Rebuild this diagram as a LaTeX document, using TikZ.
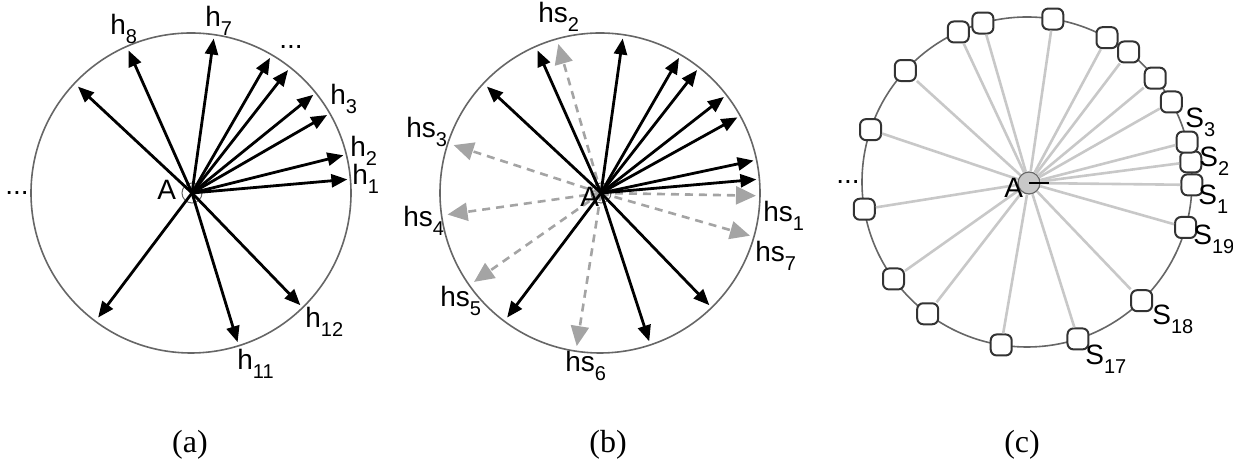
\documentclass[tikz,border=0pt]{standalone}
\usepackage{fontspec}
\setmainfont{Liberation Serif}
\setsansfont{Liberation Sans}
\usetikzlibrary{arrows.meta}
\definecolor{ringgray}{HTML}{666666}
\definecolor{dashgray}{HTML}{A4A4A4}
\definecolor{linkgray}{HTML}{C8C8C8}
\newcommand{\lsub}[1]{\raisebox{-4.5pt}{\fontsize{10}{10}\selectfont #1}}

\begin{document}
\begin{tikzpicture}[x=0.5pt,y=0.5pt,font=\sffamily\fontsize{14}{16}\selectfont,
    ring/.style={ringgray,line width=0.8pt},
    harrow/.style={line width=1.4pt,-{Triangle[length=8pt,width=6.5pt]}},
    hsarrow/.style={dashgray,line width=1.3pt,dash pattern=on 4pt off 3pt,-{Triangle[length=10pt,width=9pt]}},
    origin/.style={circle,draw=ringgray,line width=0.5pt,minimum size=10pt,inner sep=0pt},
    sbox/.style={draw=black!80,fill=white,line width=1pt,rounded corners=3pt,minimum size=10.5pt,inner sep=0pt},
    lab/.style={anchor=base west,inner sep=0pt},
    captext/.style={font=\rmfamily\fontsize{16}{18}\selectfont,anchor=base}]
    \useasboundingbox (0,0) rectangle (1233,465);
    % (a)
    \draw[ring] (191,272) circle (160);
    \node[origin] (A) at (192,272) {};
    \foreach \a [count=\i] in {5,14,30,39,52,60,82,114,137,233,287,314}{\path (A.center) ++(\a:156) coordinate (h\i); \draw[harrow] (A.center)--(h\i);}
    \node[lab] (la) at (157,265) {A};
    \node[lab] (lh1) at (352,280) {h\lsub{1}};
    \node[lab] (lh2) at (350,308) {h\lsub{2}};
    \node[lab] (lh3) at (330,360) {h\lsub{3}};
    \node[lab] (lh7) at (205,438) {h\lsub{7}};
    \node[lab] (lh8) at (110,430) {h\lsub{8}};
    \node[lab] (lh11) at (237,95) {h\lsub{11}};
    \node[lab] (lh12) at (305,137) {h\lsub{12}};
    \node (dota) at (291,418) {...};
    \node (dotb) at (17,272) {...};
    % (b)
    \draw[ring] (600,272) circle (160);
    \node[origin] (B) at (601,272) {};
    \foreach \a [count=\i] in {-1,106,162,188,215,261,344}{\path (B.center) ++(\a:155) coordinate (hs\i); \draw[hsarrow] (B.center)--(hs\i);}
    \foreach \a [count=\i] in {5,12,29,38,52,60,82,114,137,233,288,314}{\path (B.center) ++(\a:156) coordinate (g\i); \draw[harrow] (B.center)--(g\i);}
    \node[lab] (lb) at (580,258) {A};
    \node[lab] (lhs1) at (763,243) {hs\lsub{1}};
    \node[lab] (lhs2) at (538,442) {hs\lsub{2}};
    \node[lab] (lhs3) at (406,327) {hs\lsub{3}};
    \node[lab] (lhs4) at (403,238) {hs\lsub{4}};
    \node[lab] (lhs5) at (440,158) {hs\lsub{5}};
    \node[lab] (lhs6) at (565,93) {hs\lsub{6}};
    \node[lab] (lhs7) at (755,203) {hs\lsub{7}};
    % (c)
    \draw[ringgray,line width=0.8pt] (1027,283) circle (165);
    \node[circle,draw=ringgray,fill=linkgray,line width=0.6pt,minimum size=11pt,inner sep=0pt] (C) at (1029,282) {};
    \foreach \a [count=\i] in {-1,7,14,29,39,52,61,81,105.5,114.6,137.5,161.5,189.5,216,233,261,288,314,344}{\path (1027,283) ++(\a:165) node[sbox] (s\i) {}; \draw[linkgray,line width=1.3pt] (C)--(s\i);}
    \coordinate (cend) at (1049,282);
    \draw[line width=1.3pt] (C.center)--(cend);
    \node[lab] (lc) at (1004,267) {A};
    \node[lab] (ls1) at (1198,260) {S\lsub{1}};
    \node[lab] (ls2) at (1199,298) {S\lsub{2}};
    \node[lab] (ls3) at (1185,337) {S\lsub{3}};
    \node[lab] (ls17) at (1085,100) {S\lsub{17}};
    \node[lab] (ls18) at (1152,140) {S\lsub{18}};
    \node[lab] (ls19) at (1193,220) {S\lsub{19}};
    \node (dotc) at (848,283) {...};
    % captions
    \node[captext] (capa) at (190,12) {(a)};
    \node[captext] (capb) at (608,12) {(b)};
    \node[captext] (capc) at (1022,12) {(c)};
\end{tikzpicture}
\end{document}
